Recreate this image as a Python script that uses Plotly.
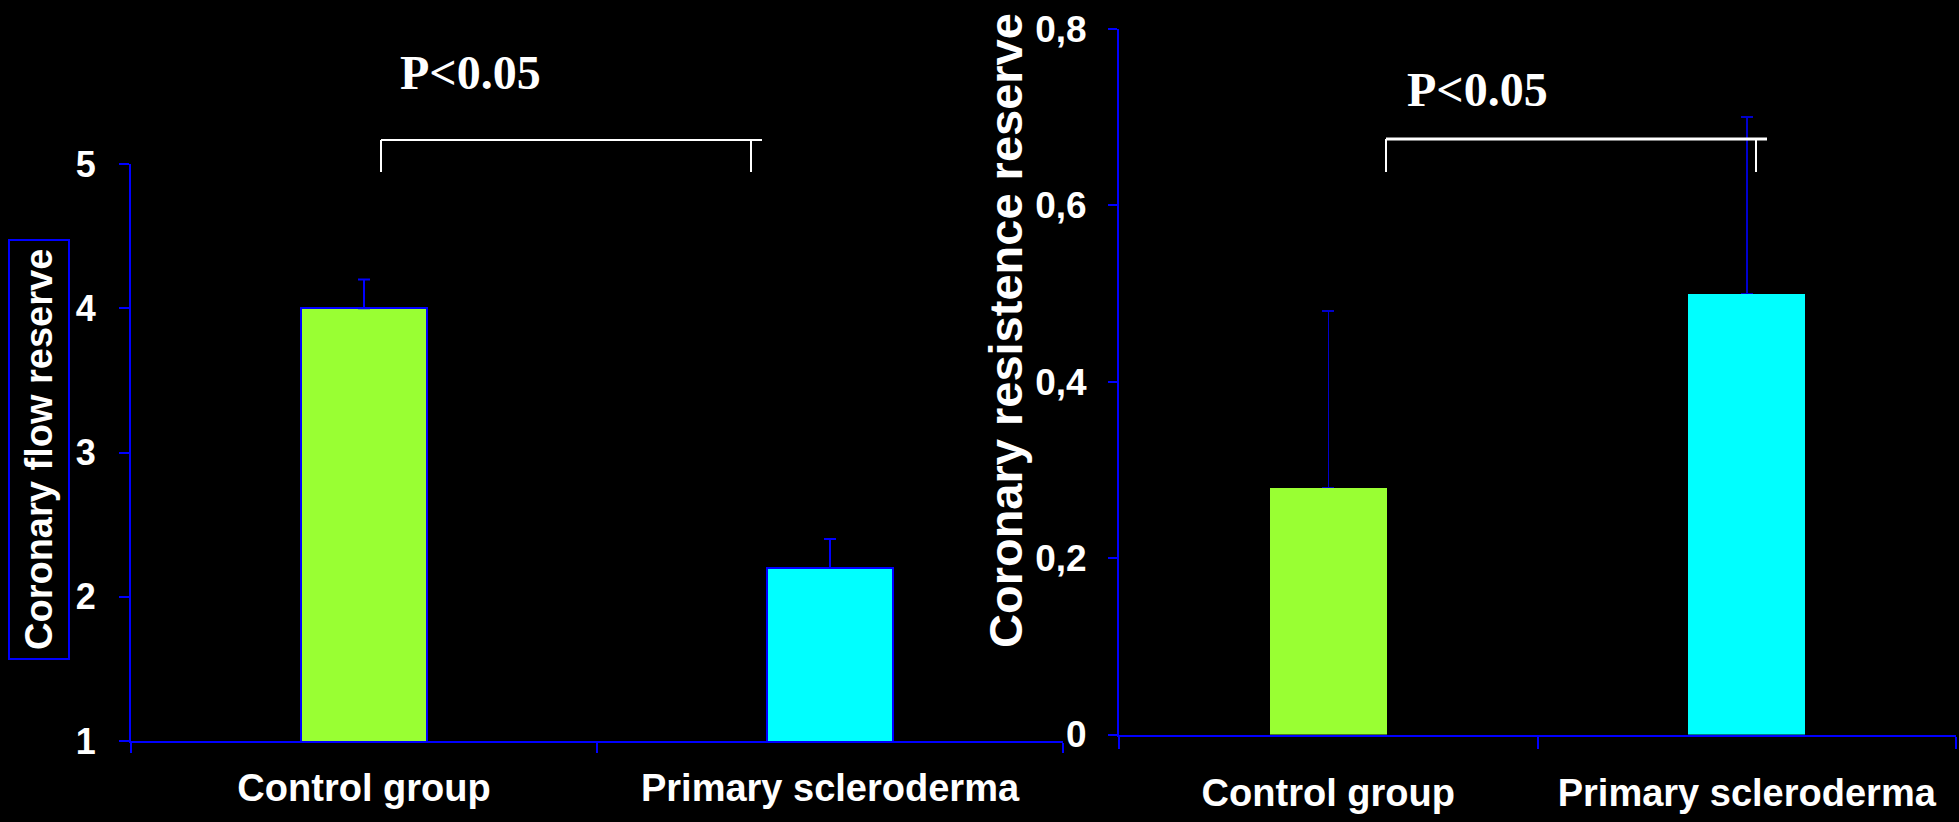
import plotly.graph_objects as go

# ---- data -------------------------------------------------------------
groups = ["Control group", "Primary scleroderma"]
bar_colors = ["#99FF33", "#00FFFF"]

flow_reserve = [4.0, 2.2]          # coronary flow reserve, mean
flow_reserve_sd = [0.2, 0.2]

resistance_reserve = [0.28, 0.50]  # coronary resistance reserve, mean
resistance_reserve_sd = [0.2, 0.2]

flow_ticks = [1, 2, 3, 4, 5]
resist_ticks = [0, 0.2, 0.4, 0.6, 0.8]
resist_ticktext = ["0", "0,2", "0,4", "0,6", "0,8"]

p_label = "P<0.05"

# ---- canvas -----------------------------------------------------------
W, H = 1959, 822
BLUE = "#0000FF"
SANS = "Liberation Sans, Arial, sans-serif"
SERIF = "Liberation Serif, Times New Roman, serif"


def px_x(v):
    return v / W


def px_y(v):
    return 1 - v / H


fig = go.Figure()

fig.add_trace(go.Bar(
    x=groups, y=flow_reserve, width=0.27,
    marker=dict(color=bar_colors, line=dict(color=BLUE, width=2)),
    error_y=dict(type="data", array=flow_reserve_sd, arrayminus=[0] * len(groups),
                 symmetric=False, color=BLUE, thickness=2, width=6),
    xaxis="x", yaxis="y", showlegend=False,
))

fig.add_trace(go.Bar(
    x=groups, y=resistance_reserve, width=0.28,
    marker=dict(color=bar_colors, line=dict(width=0)),
    error_y=dict(type="data", array=resistance_reserve_sd, arrayminus=[0] * len(groups),
                 symmetric=False, color="#0000CC", thickness=1.5, width=6),
    xaxis="x2", yaxis="y2", showlegend=False,
))

axis_common = dict(showline=True, linecolor=BLUE, linewidth=2, showgrid=False,
                   zeroline=False, ticks="outside", tickcolor=BLUE, tickwidth=2,
                   color="white", automargin=False)

fig.update_layout(
    width=W, height=H,
    margin=dict(l=0, r=0, t=0, b=0, autoexpand=False),
    paper_bgcolor="black", plot_bgcolor="black",
    bargap=0,
    xaxis=dict(domain=[px_x(131), px_x(1063)], anchor="y", type="category",
               tickson="boundaries", ticklen=10, ticklabelstandoff=12, tickangle=0,
               tickfont=dict(family=SANS, size=38, color="white", weight="bold"),
               **axis_common),
    yaxis=dict(domain=[px_y(741), px_y(164)], anchor="x", range=[1, 5],
               tickvals=flow_ticks, ticklen=10, ticklabelstandoff=16,
               tickfont=dict(family=SANS, size=36, color="white", weight="bold"),
               **axis_common),
    xaxis2=dict(domain=[px_x(1119), px_x(1956)], anchor="y2", type="category",
                tickson="boundaries", ticklen=12, ticklabelstandoff=24, tickangle=0,
                tickfont=dict(family=SANS, size=38, color="white", weight="bold"),
                **axis_common),
    yaxis2=dict(domain=[px_y(734.5), px_y(29)], anchor="x2", range=[0, 0.8],
                tickvals=resist_ticks, ticktext=resist_ticktext, ticklen=9,
                ticklabelstandoff=14,
                tickfont=dict(family=SANS, size=37, color="white", weight="bold"),
                **axis_common),
)

# significance brackets
for x0, x1, xdrop, ytop, ybot, w in [(381, 762, 751, 140, 172, 2),
                                      (1386, 1767, 1756, 139, 172, 3)]:
    fig.add_shape(type="line", xref="paper", yref="paper",
                  x0=px_x(x0), x1=px_x(x1), y0=px_y(ytop), y1=px_y(ytop),
                  line=dict(color="white", width=w))
    for xd in (x0, xdrop):
        fig.add_shape(type="line", xref="paper", yref="paper",
                      x0=px_x(xd), x1=px_x(xd), y0=px_y(ytop), y1=px_y(ybot),
                      line=dict(color="white", width=2))

for cx, cy in [(470, 72), (1477, 90)]:
    fig.add_annotation(text=p_label, xref="paper", yref="paper",
                       x=px_x(cx), y=px_y(cy), showarrow=False,
                       xanchor="center", yanchor="middle",
                       font=dict(family=SERIF, size=48, color="white", weight="bold"))

# axis titles
fig.add_annotation(text="Coronary flow reserve", xref="paper", yref="paper",
                   x=px_x(39), y=px_y(450), showarrow=False, textangle=-90,
                   xanchor="center", yanchor="middle",
                   bordercolor=BLUE, borderwidth=2, borderpad=8,
                   font=dict(family=SANS, size=38, color="white", weight="bold"))
fig.add_annotation(text="Coronary resistence reserve", xref="paper", yref="paper",
                   x=px_x(1005), y=px_y(331), showarrow=False, textangle=-90,
                   xanchor="center", yanchor="middle",
                   font=dict(family=SANS, size=47, color="white", weight="bold"))

fig.write_html("out.html")
